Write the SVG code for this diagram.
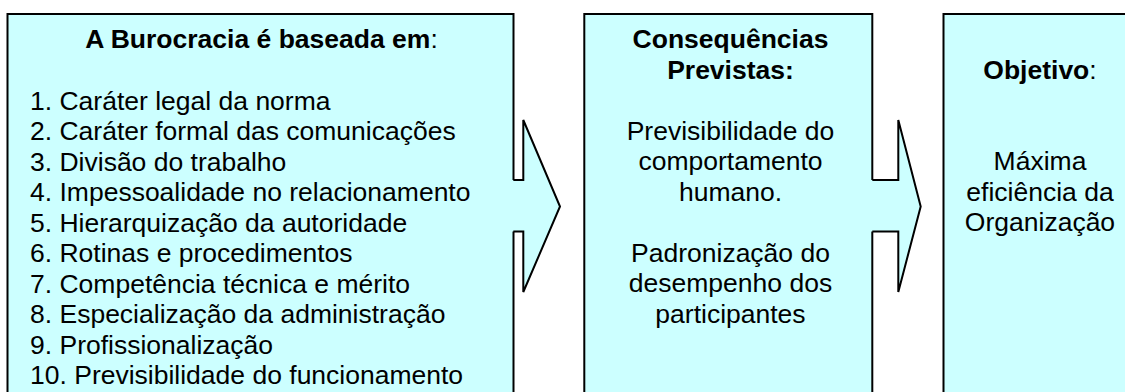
<svg xmlns="http://www.w3.org/2000/svg" width="1125" height="392" viewBox="0 0 1125 392">
<style>
.box{fill:#CCFFFF;stroke:#000;stroke-width:2}
.arrowfill{fill:#CCFFFF;stroke:none}
.arrowline{fill:none;stroke:#000;stroke-width:2;stroke-linejoin:miter}
text{font-family:"Liberation Sans",Arial,sans-serif;font-size:26.5px;fill:#000}
.b{font-weight:bold}
.c{text-anchor:middle}
</style>
<rect width="1125" height="392" fill="#fff"/>
<g id="node-base">
<rect class="box" x="7.5" y="14" width="506" height="400"/>
<text class="c" x="261.5" y="48"><tspan class="b">A Burocracia é baseada em</tspan>:</text>
<text x="30" y="109.5">1. Caráter legal da norma</text>
<text x="30" y="140">2. Caráter formal das comunicações</text>
<text x="30" y="170.5">3. Divisão do trabalho</text>
<text x="30" y="201">4. Impessoalidade no relacionamento</text>
<text x="30" y="231.5">5. Hierarquização da autoridade</text>
<text x="30" y="262">6. Rotinas e procedimentos</text>
<text x="30" y="292.5">7. Competência técnica e mérito</text>
<text x="30" y="323">8. Especialização da administração</text>
<text x="30" y="353.5">9. Profissionalização</text>
<text x="30" y="384">10. Previsibilidade do funcionamento</text>
</g>
<g id="node-consequencias">
<rect class="box" x="584.3" y="14" width="288" height="400"/>
<text class="c b" x="730.5" y="48">Consequências</text>
<text class="c b" x="730.5" y="78.5">Previstas:</text>
<text class="c" x="730.5" y="139.5">Previsibilidade do</text>
<text class="c" x="730.5" y="170">comportamento</text>
<text class="c" x="730.5" y="200.5">humano.</text>
<text class="c" x="730.5" y="261.5">Padronização do</text>
<text class="c" x="730.5" y="292">desempenho dos</text>
<text class="c" x="730.5" y="322.5">participantes</text>
</g>
<g id="node-objetivo">
<rect class="box" x="943.5" y="14" width="220" height="400"/>
<text class="c" x="1040" y="78.5"><tspan class="b">Objetivo</tspan>:</text>
<text class="c" x="1040" y="170">Máxima</text>
<text class="c" x="1040" y="200.5">eficiência da</text>
<text class="c" x="1040" y="231">Organização</text>
</g>
<g id="connectors">
<g id="arrow1">
<polygon class="arrowfill" points="511,180 523.3,180 523.3,120 560,206.5 523.3,292 523.3,231.5 511,231.5"/>
<polyline class="arrowline" points="513.3,180 523.3,180 523.3,120 560,206.5 523.3,292 523.3,231.5 513.3,231.5"/>
</g>
<g id="arrow2">
<polygon class="arrowfill" points="870,180 898.3,180 898.3,120 920.7,206.5 898.3,292 898.3,231.5 870,231.5"/>
<polyline class="arrowline" points="872.3,180 898.3,180 898.3,120 920.7,206.5 898.3,292 898.3,231.5 872.3,231.5"/>
</g>
</g>
</svg>
